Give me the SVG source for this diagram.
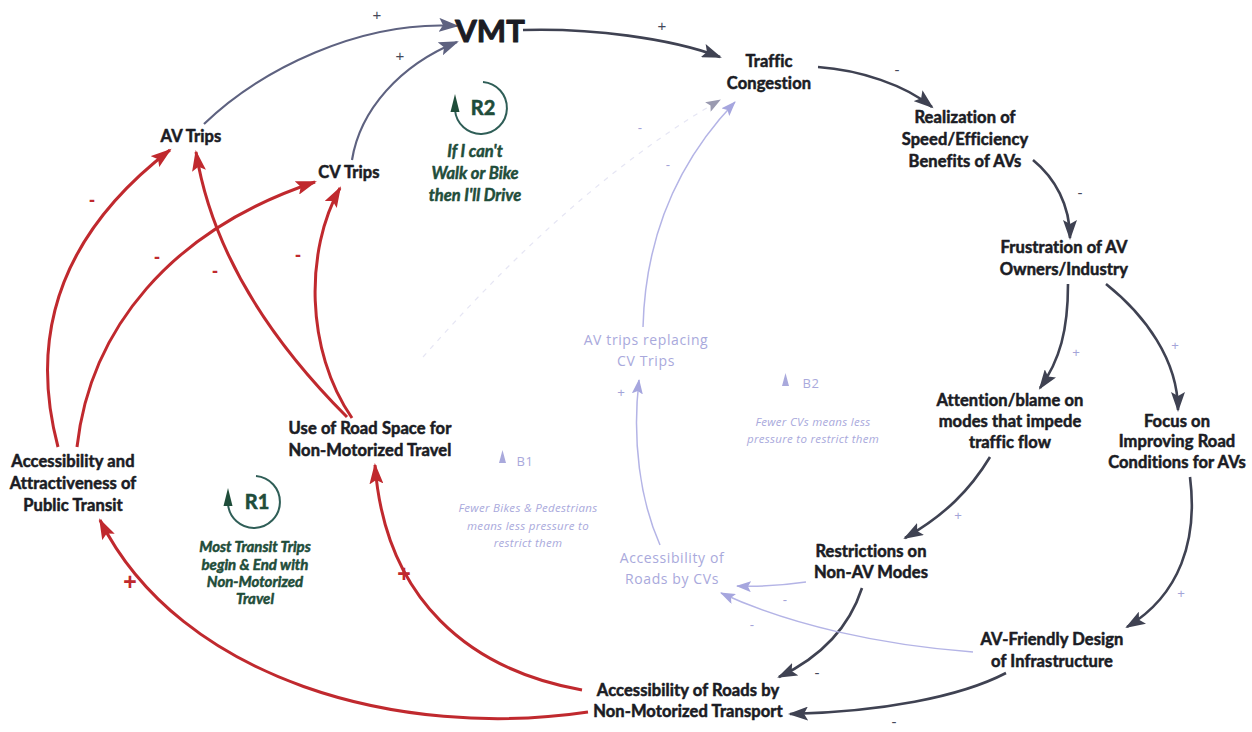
<svg xmlns="http://www.w3.org/2000/svg" width="1252" height="732" viewBox="0 0 1252 732">
  <style>
    .node { font-family: "Lato", "Liberation Sans", sans-serif; font-weight: 700; font-size: 16.5px; letter-spacing: 0.1px; fill: #1b1c24; stroke: #1b1c24; stroke-width: 0.55; stroke-linejoin: round; text-anchor: middle; }
    .vmt { font-size: 31px; stroke-width: 1; }
    .ghost { font-family: "Open Sans", "Liberation Sans", sans-serif; font-size: 14px; letter-spacing: 0.6px; fill: #a9a9dc; text-anchor: middle; }
    .note { font-family: "Open Sans", "Liberation Sans", sans-serif; font-size: 11.5px; letter-spacing: 0.3px; font-style: italic; fill: #a9a9dc; text-anchor: middle; }
    .loopid { font-family: "Lato", "Liberation Sans", sans-serif; font-weight: 700; font-size: 20px; fill: #1f4d3a; stroke: #1f4d3a; stroke-width: 0.6; text-anchor: middle; }
    .loopcap { font-family: "Lato", "Liberation Sans", sans-serif; font-weight: 700; font-style: italic; font-size: 15px; fill: #1f4d3a; stroke: #1f4d3a; stroke-width: 0.5; stroke-linejoin: round; text-anchor: middle; }
    .cap-r2 { font-size: 16.5px; }
    .sign { font-family: "Liberation Sans", sans-serif; font-size: 15px; text-anchor: middle; }
    .s-red { fill: #c0292e; font-size: 18px; font-weight: 700; }
    .s-redplus { font-size: 23px; }
    .s-dark { fill: #45485a; }
    .s-ghost { fill: #a4a4d8; font-size: 13px; }
    .red { fill: none; stroke: #c0292e; stroke-width: 3; marker-end: url(#ah-red); }
    .dark { fill: none; stroke: #3f4252; stroke-width: 2.6; marker-end: url(#ah-dark); }
    .slate { fill: none; stroke: #5e6280; stroke-width: 2.2; marker-end: url(#ah-slate); }
    .faint { fill: none; stroke: #b4b4e6; stroke-width: 1.5; marker-end: url(#ah-faint); }
    .fainter { fill: none; stroke: #e6e6f4; stroke-width: 1.2; stroke-dasharray: 5 6; marker-end: url(#ah-grey); }
  </style>
  <defs>
    <marker id="ah-red" markerUnits="userSpaceOnUse" markerWidth="22" markerHeight="14" refX="19" refY="7" orient="auto">
      <path d="M0,0 L21,7 L0,14 L4,7 z" fill="#c0292e"/>
    </marker>
    <marker id="ah-dark" markerUnits="userSpaceOnUse" markerWidth="21" markerHeight="14" refX="18" refY="7" orient="auto">
      <path d="M0,0 L20,7 L0,14 L4,7 z" fill="#3f4252"/>
    </marker>
    <marker id="ah-slate" markerUnits="userSpaceOnUse" markerWidth="21" markerHeight="14" refX="18" refY="7" orient="auto">
      <path d="M0,0 L20,7 L0,14 L4,7 z" fill="#5e6280"/>
    </marker>
    <marker id="ah-faint" markerUnits="userSpaceOnUse" markerWidth="16" markerHeight="11" refX="14" refY="5.5" orient="auto">
      <path d="M0,0 L15,5.5 L0,11 L3,5.5 z" fill="#a6a6de"/>
    </marker>
    <marker id="ah-grey" markerUnits="userSpaceOnUse" markerWidth="16" markerHeight="11" refX="14" refY="5.5" orient="auto">
      <path d="M0,0 L15,5.5 L0,11 L3,5.5 z" fill="#9a9ab0"/>
    </marker>
  </defs>

  <rect width="1252" height="732" fill="#ffffff"/>

  <!-- causal links -->
  <g id="connectors">
    <!-- into VMT -->
    <path class="slate" d="M204,124 C260,70 360,20 457,26"/>
    <path class="slate" d="M352,160 C360,110 400,65 457,42"/>
    <!-- main balancing chain -->
    <path class="dark" d="M523,30 C590,28 670,38 720,57"/>
    <path class="dark" d="M818,67 C860,70 905,85 932,107"/>
    <path class="dark" d="M1033,160 C1055,178 1070,205 1070,238"/>
    <path class="dark" d="M1068,284 C1068,330 1060,360 1040,388"/>
    <path class="dark" d="M1106,284 C1145,315 1178,360 1178,410"/>
    <path class="dark" d="M990,457 C970,490 945,515 905,538"/>
    <path class="dark" d="M1190,477 C1198,540 1180,595 1127,627"/>
    <path class="dark" d="M862,588 C850,625 825,655 779,677"/>
    <path class="dark" d="M1006,673 C960,697 880,712 790,714"/>
    <!-- CV access links -->
    <path class="faint" d="M806,582 C785,585 760,587 737,586"/>
    <path class="faint" d="M973,652 C880,645 790,625 721,593"/>
    <path class="faint" d="M660,545 C640,500 632,440 639,380"/>
    <path class="faint" d="M643,327 C645,250 670,170 735,102"/>
    <path class="fainter" d="M423,357 C500,270 600,170 720,100"/>
    <!-- non-motorized / transit links -->
    <path class="red" d="M58,447 C35,360 40,250 170,150"/>
    <path class="red" d="M77,447 C90,330 170,230 315,182"/>
    <path class="red" d="M347,417 C290,360 215,270 196,152"/>
    <path class="red" d="M352,418 C305,350 305,250 340,188"/>
    <path class="red" d="M582,690 C470,670 385,600 375,465"/>
    <path class="red" d="M588,712 C400,740 180,680 100,520"/>

    <!-- polarity signs -->
    <text class="sign s-dark" x="377" y="20">+</text>
    <text class="sign s-dark" x="400" y="61">+</text>
    <text class="sign s-dark" x="662" y="31">+</text>
    <text class="sign s-dark" x="897" y="75">-</text>
    <text class="sign s-dark" x="1080" y="198">-</text>
    <text class="sign s-dark" x="817" y="678">-</text>
    <text class="sign s-dark" x="894" y="727">-</text>
    <text class="sign s-ghost" x="1076" y="357">+</text>
    <text class="sign s-ghost" x="1175" y="350">+</text>
    <text class="sign s-ghost" x="958" y="520">+</text>
    <text class="sign s-ghost" x="1181" y="598">+</text>
    <text class="sign s-ghost" x="785" y="604">-</text>
    <text class="sign s-ghost" x="752" y="629">-</text>
    <text class="sign s-ghost" x="668" y="169">-</text>
    <text class="sign s-ghost" x="640" y="132">-</text>
    <text class="sign s-ghost" x="621" y="397">+</text>
    <text class="sign s-red" x="92" y="206">-</text>
    <text class="sign s-red" x="157" y="263">-</text>
    <text class="sign s-red" x="215" y="277">-</text>
    <text class="sign s-red" x="298" y="261">-</text>
    <text class="sign s-red s-redplus" x="404" y="582">+</text>
    <text class="sign s-red s-redplus" x="130" y="590">+</text>
  </g>

  <g id="vmt"><text class="node vmt" x="490" y="42">VMT</text></g>
  <g id="traffic-congestion">
    <text class="node" x="769" y="67">Traffic</text>
    <text class="node" x="769" y="89">Congestion</text>
  </g>
  <g id="realization">
    <text class="node" x="965" y="123">Realization of</text>
    <text class="node" x="965" y="145">Speed/Efficiency</text>
    <text class="node" x="965" y="167">Benefits of AVs</text>
  </g>
  <g id="frustration">
    <text class="node" x="1064" y="253">Frustration of AV</text>
    <text class="node" x="1064" y="275">Owners/Industry</text>
  </g>
  <g id="attention">
    <text class="node" x="1010" y="406">Attention/blame on</text>
    <text class="node" x="1010" y="427">modes that impede</text>
    <text class="node" x="1010" y="448">traffic flow</text>
  </g>
  <g id="focus">
    <text class="node" x="1177" y="427">Focus on</text>
    <text class="node" x="1177" y="447">Improving Road</text>
    <text class="node" x="1177" y="468">Conditions for AVs</text>
  </g>
  <g id="restrictions">
    <text class="node" x="871" y="557">Restrictions on</text>
    <text class="node" x="871" y="578">Non-AV Modes</text>
  </g>
  <g id="av-friendly-design">
    <text class="node" x="1052" y="645">AV-Friendly Design</text>
    <text class="node" x="1052" y="667">of Infrastructure</text>
  </g>
  <g id="nmt-access">
    <text class="node" x="688" y="696">Accessibility of Roads by</text>
    <text class="node" x="688" y="717">Non-Motorized Transport</text>
  </g>
  <g id="road-space">
    <text class="node" x="370" y="434">Use of Road Space for</text>
    <text class="node" x="370" y="456">Non-Motorized Travel</text>
  </g>
  <g id="public-transit">
    <text class="node" x="73" y="467">Accessibility and</text>
    <text class="node" x="73" y="489">Attractiveness of</text>
    <text class="node" x="73" y="511">Public Transit</text>
  </g>
  <g id="av-trips"><text class="node" x="191" y="142">AV Trips</text></g>
  <g id="cv-trips"><text class="node" x="349" y="178">CV Trips</text></g>

  <g id="av-replacing-cv">
    <text class="ghost" x="646" y="345">AV trips replacing</text>
    <text class="ghost" x="646" y="366">CV Trips</text>
  </g>
  <g id="cv-access">
    <text class="ghost" x="672" y="563">Accessibility of</text>
    <text class="ghost" x="672" y="584">Roads by CVs</text>
  </g>

  <g id="loop-b1">
    <path d="M499,463 L506,463 L502.5,450 z" fill="#a9a9dc"/>
    <text class="ghost" x="525" y="466" style="font-size:13px">B1</text>
    <text class="note" x="528" y="512">Fewer Bikes &amp; Pedestrians</text>
    <text class="note" x="528" y="530">means less pressure to</text>
    <text class="note" x="528" y="547">restrict them</text>
  </g>
  <g id="loop-b2">
    <path d="M782,386 L789,386 L785.5,373 z" fill="#a9a9dc"/>
    <text class="ghost" x="811" y="388" style="font-size:13px">B2</text>
    <text class="note" x="813" y="426">Fewer CVs means less</text>
    <text class="note" x="813" y="443">pressure to restrict them</text>
  </g>

  <g id="loop-r2">
    <path d="M483,82 A26,26 0 1 1 455,110" fill="none" stroke="#2f5e57" stroke-width="2"/>
    <path d="M450.5,112 L459.5,112 L455,94 z" fill="#1f4d3a"/>
    <text class="loopid" x="483" y="115">R2</text>
    <text class="loopcap cap-r2" x="475" y="157">If I can't</text>
    <text class="loopcap cap-r2" x="475" y="179">Walk or Bike</text>
    <text class="loopcap cap-r2" x="475" y="201">then I'll Drive</text>
  </g>
  <g id="loop-r1">
    <path d="M256,476 A26,26 0 1 1 228,504" fill="none" stroke="#2f5e57" stroke-width="2"/>
    <path d="M223.5,506 L232.5,506 L228,488 z" fill="#1f4d3a"/>
    <text class="loopid" x="257" y="509">R1</text>
    <text class="loopcap" x="255" y="552">Most Transit Trips</text>
    <text class="loopcap" x="255" y="570">begin &amp; End with</text>
    <text class="loopcap" x="255" y="587">Non-Motorized</text>
    <text class="loopcap" x="255" y="604">Travel</text>
  </g>
</svg>
